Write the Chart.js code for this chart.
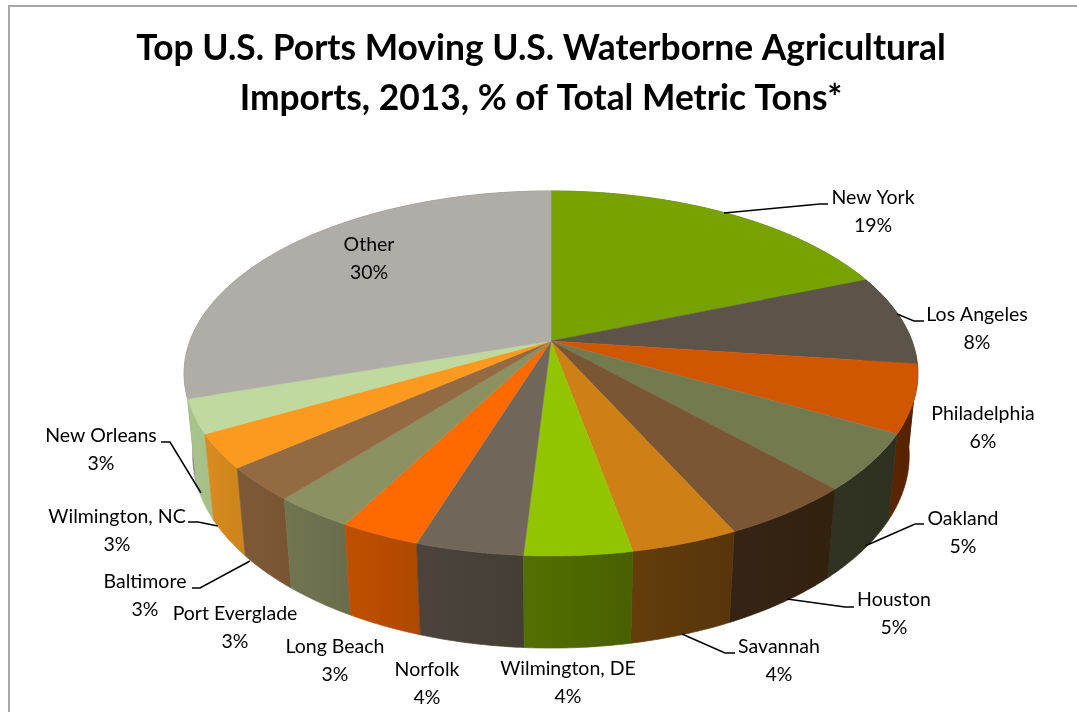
<!DOCTYPE html>
<html>
<head>
<meta charset="utf-8">
<title>Top U.S. Ports</title>
<script src="https://cdn.jsdelivr.net/npm/chart.js@4"></script>
<style>
  html, body { margin: 0; padding: 0; background: #fff; }
  canvas { display: block; }
</style>
</head>
<body>
<canvas id="portsChart" width="1077" height="712"></canvas>
<script>
var ports = ['New York', 'Los Angeles', 'Philadelphia', 'Oakland', 'Houston', 'Savannah', 'Wilmington, DE',
	'Norfolk', 'Long Beach', 'Port Everglade', 'Baltimore', 'Wilmington, NC', 'New Orleans', 'Other'];
var shares = [19, 8, 6, 5, 5, 4, 4, 4, 3, 3, 3, 3, 3, 30];
var topColors = ['#78a200', '#5c5449', '#d15600', '#747a50', '#7a5635', '#ce7f15', '#92c400',
	'#70675a', '#ff6a00', '#8d9162', '#946a42', '#fb9a1f', '#c0d99e', '#b0aca7'];
var wallLeft = ['#5a7a00', '#463f36', '#5a2500', '#303222', '#352315', '#633d0c', '#527000',
	'#4c443b', '#c05000', '#707650', '#7c5a38', '#d98c1f', '#aac48d', '#86827d'];
var wallRight = ['#4a6500', '#3c362e', '#521f00', '#2e3020', '#33210f', '#56350a', '#486000',
	'#453e34', '#ae4800', '#6a6d4a', '#7a5533', '#cf841c', '#a6c088', '#7e7a75'];

// where each label sits, centre of its first line
var labelX = [873, 977, 983, 963, 894, 779, 568, 427, 335, 235, 145, 117, 101, 369];
var labelY = [198, 315, 414, 519, 600, 647, 669, 670, 647, 614, 582, 517, 436, 245];

var leaders = [
	[[724, 213], [820, 204], [828, 204]],
	[[897, 314], [914, 321], [924, 321]],
	[[865, 546], [915, 524], [924, 524]],
	[[787, 599], [845, 607], [854, 607]],
	[[682, 634], [725, 653], [735, 653]],
	[[250, 561], [200, 588], [192, 588]],
	[[218, 526], [198, 522], [188, 522]],
	[[201, 493], [170, 442], [161, 442]]
];

// perspective of the pie: unit circle -> screen
var cam = { cx: 551, cy: 341, radius: 361, tiltY: 116, persp: -0.178, depth: 0.02328, vanishY: 3900 };

function project(angle, bottom) {
	var u = Math.cos(angle);
	var v = Math.sin(angle);
	var w = 1 + cam.persp * v;
	var x = cam.cx + cam.radius * u / w;
	var y = (cam.cy + cam.tiltY * v) / w;
	if (bottom) {
		var total = w + cam.depth;
		x = (x * w + cam.cx * cam.depth) / total;
		y = (y * w + cam.vanishY * cam.depth) / total;
	}
	return { x: x, y: y };
}

function arcPoints(start, end, bottom) {
	var pts = [];
	var steps = Math.max(2, Math.ceil((end - start) / 0.01));
	for (var i = 0; i <= steps; i++) {
		pts.push(project(start + (end - start) * i / steps, bottom));
	}
	return pts;
}

function tracePoints(ctx, pts) {
	for (var i = 0; i < pts.length; i++) {
		ctx.lineTo(pts[i].x, pts[i].y);
	}
}

// the pie controller works out the angles, this draws them tilted
var pie3d = {
	id: 'pie3d',
	beforeDatasetDraw: function (chart, args) {
		var ctx = chart.ctx;
		var arcs = chart.getDatasetMeta(args.index).data;
		var order = arcs.map(function (a, i) { return i; });

		// back of the rim first so the front walls land on top
		function midV(i) { return Math.sin((arcs[i].startAngle + arcs[i].endAngle) / 2); }
		order.sort(function (a, b) { return midV(a) - midV(b); });

		order.forEach(function (i) {
			var top = arcPoints(arcs[i].startAngle, arcs[i].endAngle, false);
			var low = arcPoints(arcs[i].startAngle, arcs[i].endAngle, true).reverse();
			var left = Math.min(top[0].x, top[top.length - 1].x);
			var right = Math.max(top[0].x, top[top.length - 1].x);
			var fill = ctx.createLinearGradient(left, 0, right + 1, 0);
			fill.addColorStop(0, wallLeft[i]);
			fill.addColorStop(1, wallRight[i]);
			ctx.beginPath();
			tracePoints(ctx, top);
			tracePoints(ctx, low);
			ctx.closePath();
			ctx.fillStyle = fill;
			ctx.strokeStyle = fill;
			ctx.lineWidth = 0.7;
			ctx.fill();
			ctx.stroke();
		});

		arcs.forEach(function (arc, i) {
			ctx.beginPath();
			ctx.moveTo(cam.cx, cam.cy);
			tracePoints(ctx, arcPoints(arc.startAngle, arc.endAngle, false));
			ctx.closePath();
			ctx.fillStyle = topColors[i];
			ctx.strokeStyle = topColors[i];
			ctx.lineWidth = 0.5;
			ctx.fill();
			ctx.stroke();
		});
		return false;
	},
	beforeDraw: function (chart) {
		var ctx = chart.ctx;
		ctx.save();
		ctx.fillStyle = '#fff';
		ctx.fillRect(0, 0, chart.width, chart.height);
		ctx.strokeStyle = '#a6a6a6';
		ctx.lineWidth = 2;
		ctx.strokeRect(9, 6, chart.width + 20, chart.height + 20);
		ctx.restore();
	},
	afterDraw: function (chart) {
		var ctx = chart.ctx;
		ctx.save();
		ctx.strokeStyle = '#000';
		ctx.lineWidth = 1.5;
		leaders.forEach(function (line) {
			ctx.beginPath();
			ctx.moveTo(line[0][0], line[0][1]);
			ctx.lineTo(line[1][0], line[1][1]);
			ctx.lineTo(line[2][0], line[2][1]);
			ctx.stroke();
		});
		ctx.fillStyle = '#000';
		ctx.font = '19.5px Lato';
		ctx.textAlign = 'center';
		ctx.textBaseline = 'middle';
		ports.forEach(function (name, i) {
			ctx.fillText(name, labelX[i], labelY[i]);
			ctx.fillText(shares[i] + '%', labelX[i], labelY[i] + 28);
		});
		ctx.restore();
	}
};

new Chart(document.getElementById('portsChart').getContext('2d'), {
	type: 'pie',
	data: {
		labels: ports,
		datasets: [{ data: shares, backgroundColor: topColors, borderWidth: 0 }]
	},
	options: {
		responsive: false,
		animation: false,
		layout: { padding: { left: 5, top: 14 } },
		plugins: {
			legend: { display: false },
			tooltip: { enabled: false },
			title: {
				display: true,
				text: ['Top U.S. Ports Moving U.S. Waterborne Agricultural', 'Imports, 2013, % of Total Metric Tons*'],
				color: '#000',
				font: { family: 'Lato', size: 35.4, weight: 'bold', lineHeight: 1.4 }
			}
		}
	},
	plugins: [pie3d]
});
</script>
</body>
</html>
